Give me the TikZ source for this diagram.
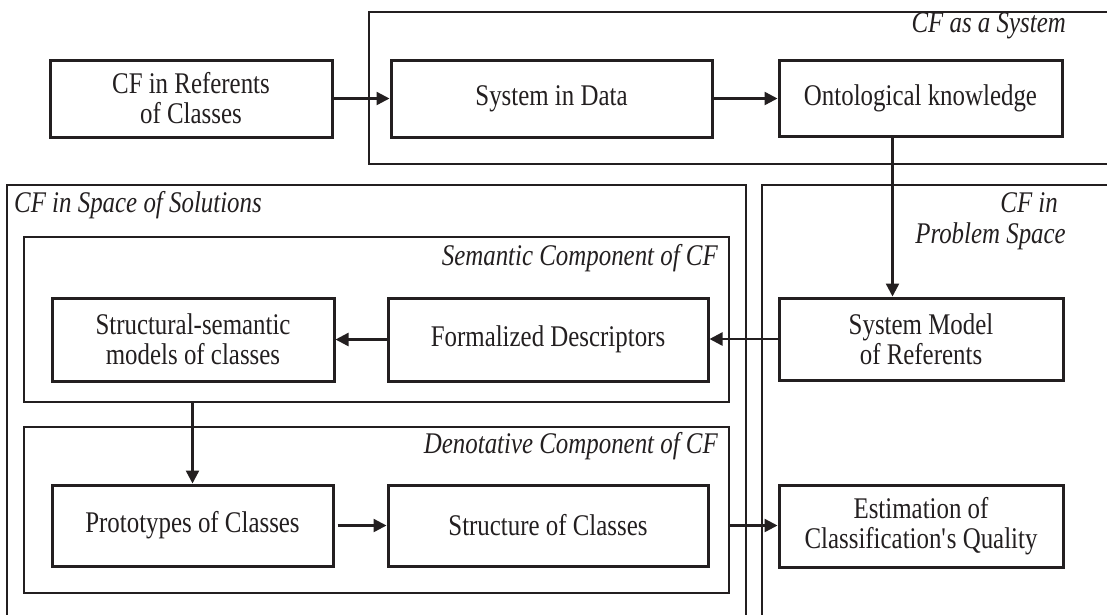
\documentclass[tikz,border=0pt]{standalone}
\usepackage{fontspec}
\setmainfont{Liberation Serif}[FakeStretch=0.83]
\usetikzlibrary{arrows.meta}
\definecolor{ink}{RGB}{35,31,32}
\tikzset{
  txt/.style={font=\fontsize{30}{30}\selectfont, text=ink},
  stepbox/.style={txt, draw=ink, line width=3pt, align=center, inner sep=0pt, fill=white},
  container/.style={draw=ink, line width=1.4pt, inner sep=0pt},
  lbl/.style={txt, font=\fontsize{30}{30}\selectfont\itshape, inner sep=0pt},
  arr/.style={draw=ink, line width=2.4pt, -{Triangle[length=13pt,width=13pt]}},
}
\begin{document}
\begin{tikzpicture}[x=1pt,y=-1pt]
\useasboundingbox (0,0) rectangle (1107,614);
\clip (0,0) rectangle (1107,614);
% containers
\node[container, minimum width=751, minimum height=152] (sys) at (744.5,88) {};
\node[container, minimum width=739, minimum height=445] (sol) at (376.5,407.5) {};
\node[container, minimum width=358, minimum height=445] (prob) at (941,407.5) {};
\node[container, minimum width=705, minimum height=165] (sem) at (376.5,319.5) {};
\node[container, minimum width=705, minimum height=166] (den) at (376.5,510) {};
% container labels
\node[lbl, anchor=base east] (lsys) at (1066,32) {CF as a System};
\node[lbl, anchor=base west] (lsol) at (14,212) {CF in Space of Solutions};
\node[lbl, anchor=base east] (lproba) at (1058,212) {CF in};
\node[lbl, anchor=base east] (lprobb) at (1066,243) {Problem Space};
\node[lbl, anchor=base east] (lsem) at (718,265) {Semantic Component of CF};
\node[lbl, anchor=base east] (lden) at (718,453) {Denotative Component of CF};
% boxes
\node[stepbox, minimum width=282, minimum height=77] (ref) at (191,98.5) {CF in Referents\\of Classes};
\node[stepbox, minimum width=321, minimum height=77] (sysdata) at (551.5,98.5) {System in Data};
\node[stepbox, minimum width=283, minimum height=76] (onto) at (920.5,98) {Ontological knowledge};
\node[stepbox, minimum width=282, minimum height=83] (ssm) at (193,339.5) {Structural-semantic\\models of classes};
\node[stepbox, minimum width=320, minimum height=83] (fd) at (548,339.5) {Formalized Descriptors};
\node[stepbox, minimum width=284, minimum height=82] (smr) at (921,339) {System Model\\of Referents};
\node[stepbox, minimum width=281, minimum height=81] (proto) at (192.5,525.5) {Prototypes of Classes};
\node[stepbox, minimum width=320, minimum height=81] (soc) at (548,525.5) {Structure of Classes};
\node[stepbox, minimum width=284, minimum height=82] (est) at (921,526) {Estimation of\\Classification\textquotesingle s Quality};
% connectors
\draw[arr] (ref.east) -- (ref.east -| sysdata.west);
\draw[arr] (sysdata.east) -- (sysdata.east -| onto.west);
\draw[arr] ([xshift=-28pt]onto.south) -- ([xshift=-28pt]onto.south |- smr.north);
\draw[arr] (smr.west) -- (smr.west -| fd.east);
\draw[arr] (fd.west) -- (fd.west -| ssm.east);
\draw[arr] (sem.south -| proto.north) -- (proto.north);
\draw[arr, shorten <=3pt] (proto.east) -- (proto.east -| soc.west);
\draw[arr] (soc.east -| den.east) -- (soc.east -| est.west);
\end{tikzpicture}
\end{document}
